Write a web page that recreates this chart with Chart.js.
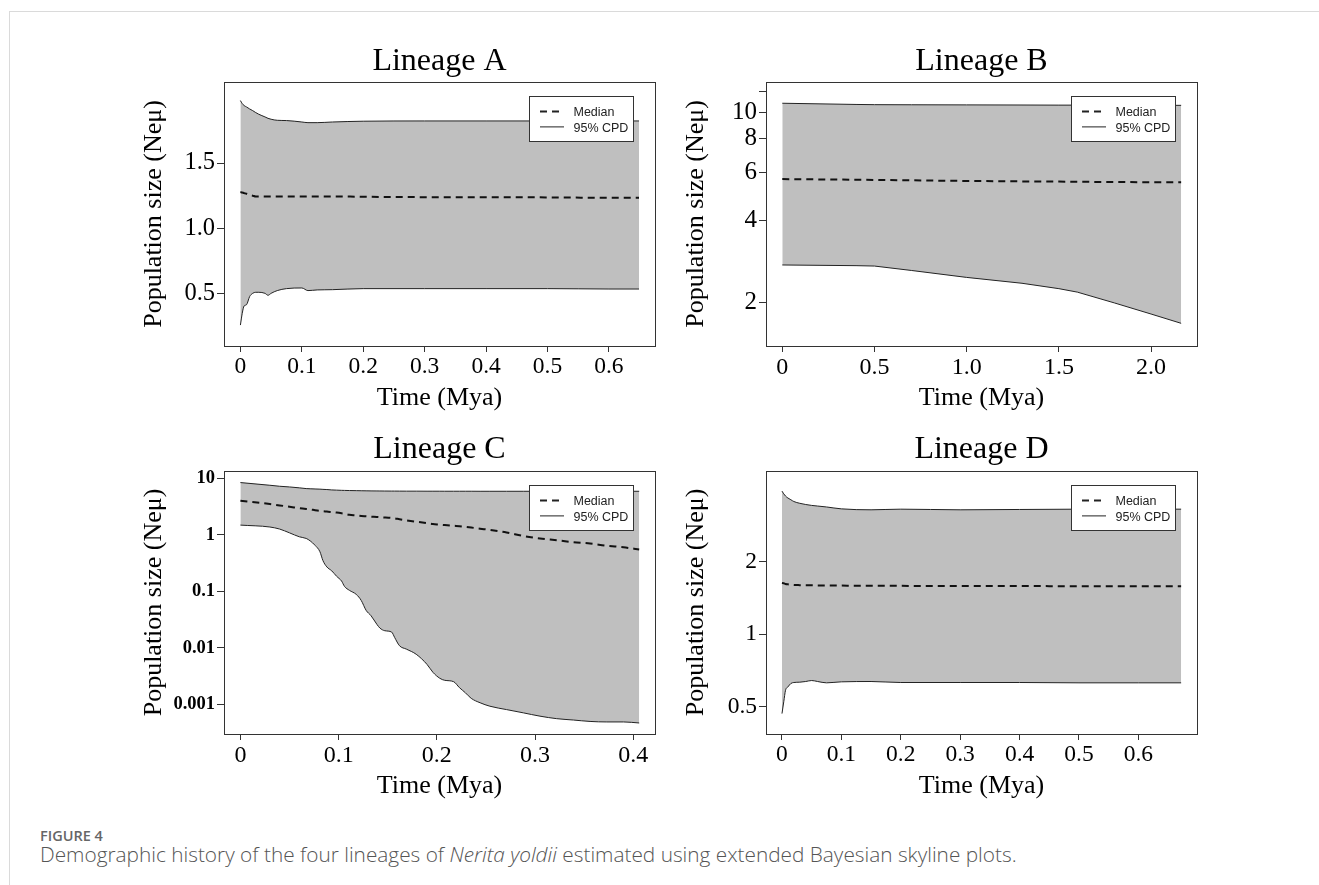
<!DOCTYPE html>
<html>
<head>
<meta charset="utf-8">
<script src="https://cdn.jsdelivr.net/npm/chart.js@4.4.1/dist/chart.umd.min.js"></script>
<style>
  body { margin: 0; background: #fff; }
  #page { position: relative; width: 1319px; height: 885px; overflow: hidden; }
  #frame {
    position: absolute; left: 9px; top: 11px; right: 0; bottom: 0;
    border-top: 1px solid #dadada; border-left: 1px solid #dadada;
  }
  canvas { position: absolute; }
  .fig-label {
    position: absolute; left: 40px; top: 829px;
    font: 600 14.5px "Open Sans", sans-serif; line-height: 14px; color: #666;
  }
  .fig-caption {
    position: absolute; left: 40px; top: 844px; white-space: nowrap;
    font: 300 20.8px "Open Sans", sans-serif; line-height: 20.8px; color: #555;
  }
</style>
</head>
<body>
<div id="page">
  <div id="frame"></div>
  <canvas id="chartA"></canvas>
  <canvas id="chartB"></canvas>
  <canvas id="chartC"></canvas>
  <canvas id="chartD"></canvas>
  <div class="fig-label">FIGURE 4</div>
  <div class="fig-caption">Demographic history of the four lineages of <i>Nerita yoldii</i> estimated using extended Bayesian skyline plots.</div>
</div>
<script>
// ----------------------------
// DATA
// ----------------------------
// Lineage A
const timeA = [0, 0.003, 0.006, 0.01, 0.015, 0.02, 0.025, 0.03, 0.04, 0.045, 0.05, 0.06, 0.075, 0.1, 0.11, 0.125, 0.15, 0.2, 0.3, 0.4, 0.5, 0.6, 0.649];
const upperA = [1.978, 1.955, 1.94, 1.929, 1.914, 1.901, 1.886, 1.873, 1.853, 1.842, 1.835, 1.827, 1.825, 1.814, 1.809, 1.809, 1.814, 1.82, 1.822, 1.822, 1.822, 1.822, 1.822];
const medianA = [1.278, 1.275, 1.27, 1.265, 1.255, 1.25, 1.244, 1.244, 1.244, 1.244, 1.244, 1.244, 1.244, 1.244, 1.244, 1.244, 1.244, 1.242, 1.239, 1.239, 1.237, 1.234, 1.234];
const lowerA = [0.26, 0.35, 0.406, 0.416, 0.478, 0.503, 0.511, 0.511, 0.503, 0.488, 0.503, 0.524, 0.539, 0.544, 0.524, 0.529, 0.531, 0.539, 0.539, 0.539, 0.539, 0.536, 0.536];
const xTicksA = [0, 0.1, 0.2, 0.3, 0.4, 0.5, 0.6];
const xLabelsA = ["0", "0.1", "0.2", "0.3", "0.4", "0.5", "0.6"];
const yTicksA = [0.5, 1.0, 1.5];
const yLabelsA = ["0.5", "1.0", "1.5"];

// Lineage B
const timeB = [0, 0.4, 0.5, 0.7, 1.0, 1.3, 1.5, 1.6, 1.8, 2.0, 2.163];
const upperB = [10.83, 10.72, 10.7, 10.69, 10.68, 10.67, 10.66, 10.66, 10.65, 10.64, 10.64];
const medianB = [5.69, 5.66, 5.65, 5.63, 5.6, 5.58, 5.57, 5.56, 5.55, 5.54, 5.54];
const lowerB = [2.745, 2.729, 2.72, 2.62, 2.47, 2.35, 2.245, 2.18, 1.99, 1.81, 1.673];
const xTicksB = [0, 0.5, 1.0, 1.5, 2.0];
const xLabelsB = ["0", "0.5", "1.0", "1.5", "2.0"];
const yTicksB = [2, 4, 6, 8, 10, 12];
const yLabelsB = ["2", "4", "6", "8", "10", ""];

// Lineage C
const timeC = [0, 0.03, 0.04, 0.05, 0.06, 0.067, 0.071, 0.076, 0.081, 0.084, 0.088, 0.093, 0.098, 0.103, 0.106, 0.111, 0.118, 0.123, 0.128, 0.133, 0.139, 0.142, 0.147, 0.154, 0.157, 0.162, 0.169, 0.179, 0.19, 0.196, 0.203, 0.208, 0.217, 0.223, 0.229, 0.235, 0.244, 0.254, 0.271, 0.288, 0.305, 0.322, 0.339, 0.356, 0.373, 0.39, 0.406];
const upperC = [8.37, 7.5, 7.2, 7.0, 6.75, 6.55, 6.5, 6.45, 6.4, 6.35, 6.3, 6.2, 6.15, 6.1, 6.08, 6.05, 6.02, 6.0, 5.98, 5.96, 5.95, 5.94, 5.93, 5.92, 5.92, 5.91, 5.9, 5.9, 5.89, 5.89, 5.89, 5.88, 5.88, 5.88, 5.88, 5.88, 5.87, 5.87, 5.87, 5.87, 5.87, 5.87, 5.87, 5.87, 5.87, 5.87, 5.87];
const medianC = [4.0, 3.5, 3.3, 3.13, 2.95, 2.85, 2.8, 2.72, 2.65, 2.6, 2.57, 2.52, 2.47, 2.4, 2.35, 2.25, 2.2, 2.15, 2.12, 2.09, 2.06, 2.04, 2.02, 1.98, 1.95, 1.88, 1.8, 1.7, 1.6, 1.55, 1.51, 1.48, 1.44, 1.42, 1.38, 1.34, 1.28, 1.22, 1.1, 0.95, 0.86, 0.8, 0.74, 0.7, 0.64, 0.6, 0.55];
const lowerC = [1.48, 1.37, 1.26, 1.08, 0.92, 0.86, 0.78, 0.65, 0.5, 0.35, 0.27, 0.23, 0.184, 0.152, 0.122, 0.104, 0.088, 0.069, 0.046, 0.037, 0.026, 0.0224, 0.0201, 0.019, 0.0153, 0.0109, 0.0095, 0.0077, 0.0051, 0.0037, 0.0029, 0.00267, 0.00253, 0.00198, 0.00161, 0.00128, 0.00107, 0.00093, 0.00081, 0.00071, 0.00062, 0.00056, 0.00053, 0.0005, 0.00049, 0.00049, 0.00047];
const xTicksC = [0, 0.1, 0.2, 0.3, 0.4];
const xLabelsC = ["0", "0.1", "0.2", "0.3", "0.4"];
const yTicksC = [0.001, 0.01, 0.1, 1, 10];
const yLabelsC = ["0.001", "0.01", "0.1", "1", "10"];

// Lineage D
const timeD = [0, 0.003, 0.006, 0.01, 0.015, 0.02, 0.03, 0.04, 0.05, 0.06, 0.075, 0.1, 0.15, 0.2, 0.3, 0.4, 0.5, 0.6, 0.672];
const upperD = [3.92, 3.82, 3.74, 3.67, 3.61, 3.55, 3.49, 3.45, 3.42, 3.4, 3.37, 3.31, 3.28, 3.3, 3.28, 3.29, 3.3, 3.3, 3.3];
const medianD = [1.632, 1.626, 1.616, 1.611, 1.606, 1.601, 1.598, 1.596, 1.595, 1.594, 1.593, 1.591, 1.588, 1.587, 1.585, 1.584, 1.582, 1.581, 1.58];
const lowerD = [0.469, 0.525, 0.586, 0.605, 0.625, 0.631, 0.633, 0.637, 0.643, 0.637, 0.629, 0.635, 0.637, 0.631, 0.631, 0.631, 0.629, 0.629, 0.629];
const xTicksD = [0, 0.1, 0.2, 0.3, 0.4, 0.5, 0.6];
const xLabelsD = ["0", "0.1", "0.2", "0.3", "0.4", "0.5", "0.6"];
const yTicksD = [0.5, 1, 2];
const yLabelsD = ["0.5", "1", "2"];

const legendLabels = ["Median", "95% CPD"];

// ----------------------------
// LAYOUT / STYLE
// ----------------------------
const PAD_L = 100, PAD_T = 60, PAD_R = 20, PAD_B = 80;
const SERIF = "'Liberation Serif', 'Times New Roman', serif";
const SANS = "'Liberation Sans', Arial, sans-serif";
const INK = "#333";
const MEDIAN_DASH = [7, 5];

function points(xs, ys) {
  return xs.map((x, i) => ({ x: x, y: ys[i] }));
}

// box, panel title and the R-style legend
const rFrame = {
  id: "rFrame",
  afterDraw(chart, args, opts) {
    const { ctx, chartArea: a } = chart;
    ctx.save();
    ctx.strokeStyle = INK;
    ctx.lineWidth = 1;
    ctx.strokeRect(Math.round(a.left) + 0.5, Math.round(a.top) + 0.5,
      Math.round(a.right - a.left), Math.round(a.bottom - a.top));

    ctx.fillStyle = "#000";
    ctx.font = "32px " + SERIF;
    ctx.textAlign = "center";
    ctx.textBaseline = "alphabetic";
    ctx.fillText(opts.title, (a.left + a.right) / 2, a.top - opts.titleGap);

    // legend
    const bx = Math.round(a.right - 126) + 0.5;
    const by = Math.round(a.top + 13.5) + 0.5;
    ctx.fillStyle = "#fff";
    ctx.fillRect(bx, by, 104, 45);
    ctx.strokeRect(bx, by, 104, 45);
    const rows = [
      { label: chart.data.datasets[2].label, dash: MEDIAN_DASH, width: 2 },
      { label: chart.data.datasets[1].label, dash: [], width: 1 },
    ];
    ctx.font = "12.5px " + SANS;
    ctx.textAlign = "left";
    ctx.textBaseline = "middle";
    rows.forEach((r, i) => {
      const y = by + 15 + i * 15.4;
      ctx.beginPath();
      ctx.setLineDash(r.dash);
      ctx.lineWidth = r.width;
      ctx.strokeStyle = "#222";
      ctx.moveTo(bx + 10.5, y);
      ctx.lineTo(bx + 34.5, y);
      ctx.stroke();
      ctx.fillStyle = "#222";
      ctx.fillText(r.label, bx + 44, y + 1.2);
    });
    ctx.restore();
  },
};

function makePanel(id, p) {
  const canvas = document.getElementById(id);
  canvas.width = PAD_L + p.w + PAD_R;
  canvas.height = PAD_T + p.h + PAD_B;
  canvas.style.left = (p.x - PAD_L) + "px";
  canvas.style.top = (p.y - PAD_T) + "px";

  const lineMode = p.smooth ? "monotone" : "default";

  return new Chart(canvas, {
    type: "line",
    data: {
      datasets: [
        {
          label: legendLabels[1],
          data: points(p.time, p.lower),
          borderColor: "#222",
          borderWidth: 1,
          fill: false,
          cubicInterpolationMode: lineMode,
        },
        {
          label: legendLabels[1],
          data: points(p.time, p.upper),
          borderColor: "#222",
          borderWidth: 1,
          backgroundColor: "#bfbfbf",
          fill: "-1",
          cubicInterpolationMode: lineMode,
        },
        {
          label: legendLabels[0],
          data: points(p.time, p.median),
          borderColor: "#111",
          borderWidth: 2,
          borderDash: MEDIAN_DASH,
          fill: false,
          cubicInterpolationMode: lineMode,
        },
      ],
    },
    options: {
      responsive: false,
      animation: false,
      devicePixelRatio: 1,
      layout: { padding: { left: 0, top: PAD_T, right: PAD_R, bottom: 0 } },
      elements: { point: { radius: 0 } },
      plugins: {
        legend: { display: false },
        tooltip: { enabled: false },
        filler: { propagate: false, drawTime: "beforeDatasetsDraw" },
        rFrame: { title: p.title, titleGap: p.titleGap },
      },
      scales: {
        x: {
          type: "linear",
          position: "bottom",
          min: p.xMin,
          max: p.xMax,
          grid: { drawOnChartArea: false, drawTicks: true, tickLength: 6, color: INK },
          border: { display: true, color: INK, width: 1 },
          ticks: {
            autoSkip: false,
            maxRotation: 0,
            padding: 1,
            color: "#000",
            font: { family: SERIF, size: p.xFont },
            callback: (v, i) => p.xLabels[i],
          },
          title: {
            display: true,
            text: "Time (Mya)",
            color: "#000",
            font: { family: SERIF, size: 26 },
            padding: { top: 0, bottom: 12 },
          },
          afterBuildTicks: (axis) => { axis.ticks = p.xTicks.map((v) => ({ value: v })); },
          afterFit: (axis) => { axis.height = PAD_B; },
        },
        y: {
          type: p.yType,
          position: "left",
          min: p.yMin,
          max: p.yMax,
          grid: { drawOnChartArea: false, drawTicks: true, tickLength: 7, color: INK },
          border: { display: true, color: INK, width: 1 },
          ticks: {
            autoSkip: false,
            padding: 2,
            color: "#000",
            font: { family: SERIF, size: p.yFont, weight: p.yWeight },
            callback: (v, i) => p.yLabels[i],
          },
          title: {
            display: true,
            text: "Population size (Neμ)",
            color: "#000",
            font: { family: SERIF, size: 26 },
            padding: { top: 15, bottom: 0 },
          },
          afterBuildTicks: (axis) => { axis.ticks = p.yTicks.map((v) => ({ value: v })); },
          afterFit: (axis) => { axis.width = PAD_L; },
        },
      },
    },
    plugins: [rFrame],
  });
}

// ----------------------------
// PANELS
// ----------------------------
makePanel("chartA", {
  title: "Lineage A", titleGap: 12, x: 224, y: 82, w: 431, h: 264, smooth: true,
  time: timeA, upper: upperA, median: medianA, lower: lowerA,
  xMin: -0.0267, xMax: 0.675, xTicks: xTicksA, xLabels: xLabelsA, xFont: 23.5,
  yType: "linear", yMin: 0.1, yMax: 2.12, yTicks: yTicksA, yLabels: yLabelsA, yFont: 24.5, yWeight: "normal",
});

makePanel("chartB", {
  title: "Lineage B", titleGap: 12, x: 766, y: 82, w: 431, h: 264, smooth: false,
  time: timeB, upper: upperB, median: medianB, lower: lowerB,
  xMin: -0.0883, xMax: 2.249, xTicks: xTicksB, xLabels: xLabelsB, xFont: 24,
  yType: "logarithmic", yMin: 1.38, yMax: 12.97, yTicks: yTicksB, yLabels: yLabelsB, yFont: 25, yWeight: "normal",
});

makePanel("chartC", {
  title: "Lineage C", titleGap: 13.4, x: 224, y: 471, w: 431, h: 263, smooth: true,
  time: timeC, upper: upperC, median: medianC, lower: lowerC,
  xMin: -0.0167, xMax: 0.4221, xTicks: xTicksC, xLabels: xLabelsC, xFont: 24,
  yType: "logarithmic", yMin: 0.0003, yMax: 13.4, yTicks: yTicksC, yLabels: yLabelsC, yFont: 18.5, yWeight: "bold",
});

makePanel("chartD", {
  title: "Lineage D", titleGap: 13.4, x: 766, y: 471, w: 431, h: 263, smooth: true,
  time: timeD, upper: upperD, median: medianD, lower: lowerD,
  xMin: -0.0269, xMax: 0.6987, xTicks: xTicksD, xLabels: xLabelsD, xFont: 23.5,
  yType: "logarithmic", yMin: 0.386, yMax: 4.75, yTicks: yTicksD, yLabels: yLabelsD, yFont: 23.5, yWeight: "normal",
});
</script>
</body>
</html>
